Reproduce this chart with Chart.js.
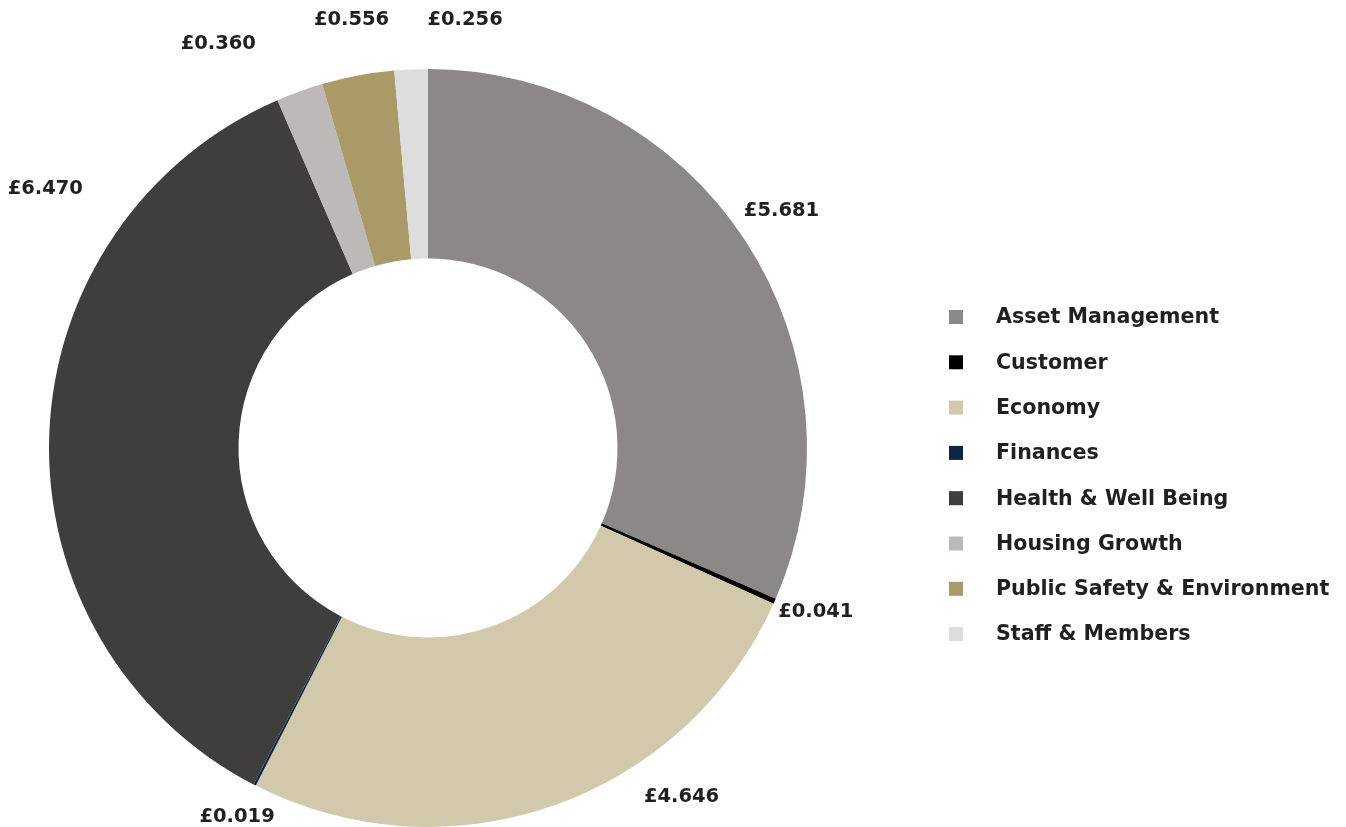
<!DOCTYPE html>
<html>
<head>
<meta charset="utf-8">
<script src="https://cdn.jsdelivr.net/npm/chart.js@4/dist/chart.umd.min.js"></script>
<style>
html,body{margin:0;padding:0;background:#fff;}
#wrap{position:relative;width:1346px;height:827px;}
</style>
</head>
<body>
<div id="wrap"><canvas id="c" width="1346" height="827"></canvas></div>
<script>
const categories = ["Asset Management","Customer","Economy","Finances","Health & Well Being","Housing Growth","Public Safety & Environment","Staff & Members"];
const values = [5.681, 0.041, 4.646, 0.019, 6.470, 0.360, 0.556, 0.256];
const colors = ["#8C8887","#000000","#D2C9AC","#0C2744","#403E3C","#BCB9B8","#AA9A68","#DDDDDD"];
// label nudges (pixels) from the radial anchor, mimicking the reference's label placement
const labelNudge = [[-1,-4],[0,-7],[113,-51],[3,-8],[41,-244],[-66,-5],[2,-11],[56,-4]];

const FONT = "'DejaVu Sans', Verdana, sans-serif";
const TEXT = "#231F20";

const labelPlugin = {
  id: 'outLabels',
  afterDatasetsDraw(chart) {
    const ctx = chart.ctx;
    const meta = chart.getDatasetMeta(0);
    ctx.save();
    ctx.font = "bold 19.5px " + FONT;
    ctx.fillStyle = TEXT;
    ctx.textAlign = 'center';
    ctx.textBaseline = 'middle';
    meta.data.forEach((arc, i) => {
      const mid = (arc.startAngle + arc.endAngle) / 2;
      const d = arc.outerRadius + 45;
      const x = arc.x + Math.cos(mid) * d + labelNudge[i][0];
      const y = arc.y + Math.sin(mid) * d + labelNudge[i][1];
      ctx.fillText('£' + values[i].toFixed(3), x, y);
    });
    ctx.restore();
  }
};

const legendPlugin = {
  id: 'sideLegend',
  afterDraw(chart) {
    const ctx = chart.ctx;
    ctx.save();
    ctx.font = "bold 20.6px " + FONT;
    ctx.textAlign = 'left';
    ctx.textBaseline = 'middle';
    const x0 = 949, tx = 996, y0 = 317, step = 45.3;
    chart.data.labels.forEach((lab, i) => {
      const y = y0 + i * step;
      ctx.fillStyle = chart.data.datasets[0].backgroundColor[i];
      ctx.fillRect(x0, y - 7, 14, 14);
      ctx.fillStyle = TEXT;
      ctx.fillText(lab, tx, y + 1);
    });
    ctx.restore();
  }
};

new Chart(document.getElementById('c'), {
  type: 'doughnut',
  data: {
    labels: categories,
    datasets: [{
      data: values,
      backgroundColor: colors,
      borderWidth: 0,
      borderColor: '#ffffff'
    }]
  },
  options: {
    responsive: false,
    animation: false,
    cutout: '50%',
    layout: { padding: { left: 49, right: 539, top: 69, bottom: 0 } },
    plugins: {
      legend: { display: false },
      tooltip: { enabled: false }
    }
  },
  plugins: [labelPlugin, legendPlugin]
});
</script>
</body>
</html>
